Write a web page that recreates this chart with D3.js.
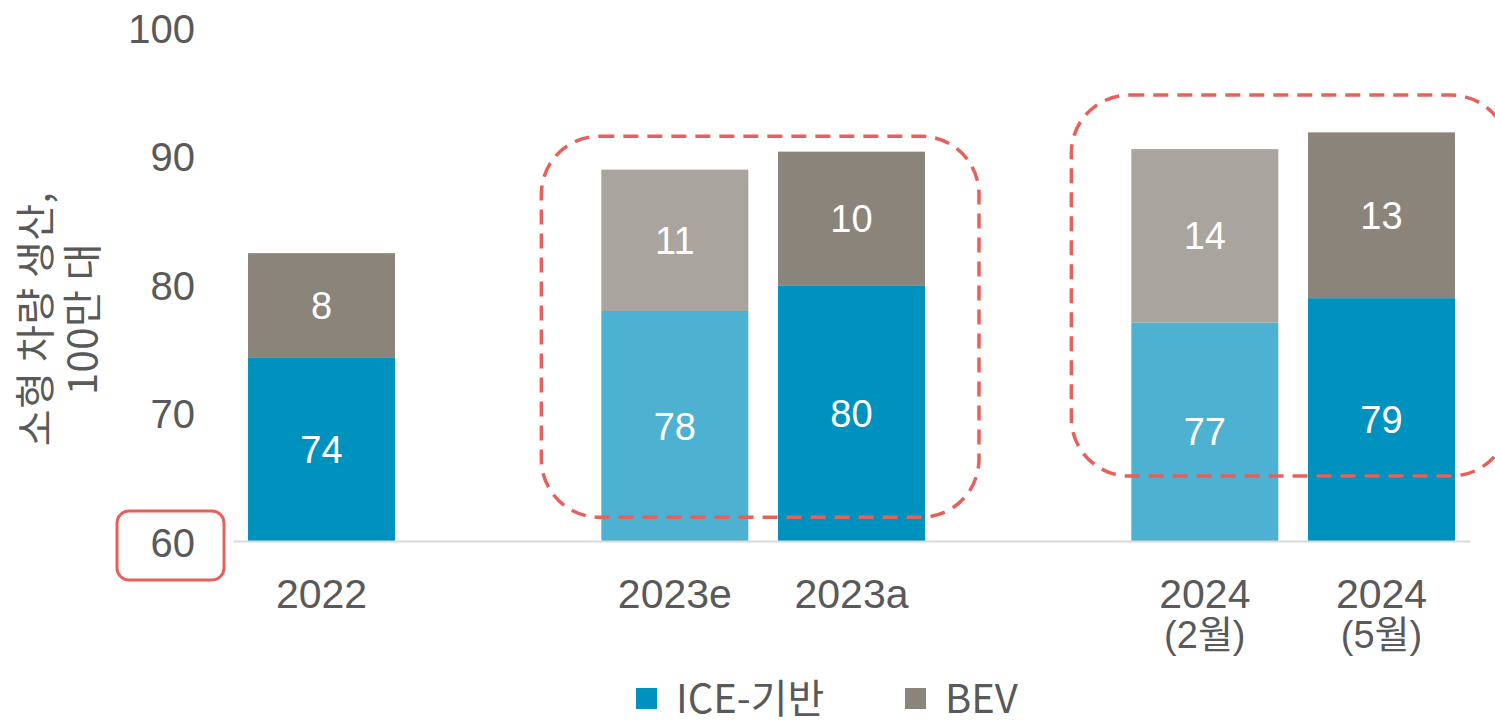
<!DOCTYPE html>
<html><head><meta charset="utf-8">
<script src="https://cdn.jsdelivr.net/npm/d3@7"></script>
<style>html,body{margin:0;padding:0;background:#fff;overflow:hidden}</style>
</head><body><svg id="c" width="1495" height="720"></svg>
<script>
// ---- data ----
const categories = ["2022", "2023e", "2023a", "2024\n(2월)", "2024\n(5월)"];
const iceValues = [74.3, 77.9, 79.9, 77.0, 78.9];
const bevValues = [8.1, 11.0, 10.4, 13.5, 12.9];
const isForecast = [false, true, false, true, false];
const yTicks = [60, 70, 80, 90, 100];
const seriesNames = ["ICE-기반", "BEV"];
const yTitleLines = ["소형 차량 생산,", "100만 대"];
// highlighted groups (first, last category) with vertical extent in data units
const highlightGroups = [
  {from: "2023e", to: "2023a", top: 91.5, bottom: 61.85},
  {from: "2024\n(2월)", to: "2024\n(5월)", top: 94.7, bottom: 65.05}
];

// ---- styles ----
const C = {
  ice: "#0092BF", iceLight: "#4DB1D1",
  bev: "#8B847A", bevLight: "#A9A49D",
  text: "#595959", axis: "#D9D9D9", red: "#E8605A"
};
const latin = "'Liberation Sans', Arial, 'Noto Sans CJK KR', sans-serif";
const kor = "'Noto Sans CJK KR', 'Noto Sans', sans-serif";

const svg = d3.select("#c");
const slots = [categories[0], "_g1", categories[1], categories[2], "_g2", categories[3], categories[4]];
const x = d3.scaleBand().domain(slots).range([233, 1470]).paddingInner(0.168).paddingOuter(0.085);
const y = d3.scaleLinear().domain([60, 100]).range([541, 27]);
const bw = x.bandwidth();

const rows = categories.map((c, i) => ({c, ice: iceValues[i], bev: bevValues[i], f: isForecast[i]}));

// bars
const g = svg.append("g");
g.selectAll("rect.ice").data(rows).join("rect")
  .attr("x", d => x(d.c)).attr("width", bw)
  .attr("y", d => y(d.ice)).attr("height", d => y(60) - y(d.ice))
  .attr("fill", d => d.f ? C.iceLight : C.ice);
g.selectAll("rect.bev").data(rows).join("rect")
  .attr("x", d => x(d.c)).attr("width", bw)
  .attr("y", d => y(d.ice + d.bev)).attr("height", d => y(d.ice) - y(d.ice + d.bev))
  .attr("fill", d => d.f ? C.bevLight : C.bev);

// value labels
g.selectAll("text.iv").data(rows).join("text")
  .attr("x", d => x(d.c) + bw / 2).attr("y", d => (y(60) + y(d.ice)) / 2)
  .attr("dy", "0.36em").attr("text-anchor", "middle")
  .attr("font-family", latin).attr("font-size", 38).attr("fill", "#fff")
  .text(d => Math.round(d.ice));
g.selectAll("text.bv").data(rows).join("text")
  .attr("x", d => x(d.c) + bw / 2).attr("y", d => (y(d.ice) + y(d.ice + d.bev)) / 2)
  .attr("dy", "0.36em").attr("text-anchor", "middle")
  .attr("font-family", latin).attr("font-size", 38).attr("fill", "#fff")
  .text(d => Math.round(d.bev));

// x axis
const xa = svg.append("g").attr("transform", `translate(0,${y(60)})`)
  .call(d3.axisBottom(x).tickValues(categories).tickSize(0).tickSizeOuter(0).tickFormat(""));
xa.select(".domain").attr("stroke", C.axis).attr("stroke-width", 2);
xa.selectAll(".tick text").each(function(d) {
  const t = d3.select(this).attr("fill", C.text).attr("font-family", latin)
    .attr("font-size", 41).attr("y", 0).attr("dy", null);
  d.split("\n").forEach((line, i) => {
    t.append("tspan").attr("x", 0).attr("y", 67 + i * 40)
      .attr("font-size", i === 0 ? 41 : 38).text(line);
  });
});

// y axis
const ya = svg.append("g").attr("transform", "translate(195,0)")
  .call(d3.axisLeft(y).tickValues(yTicks).tickSize(0).tickPadding(0));
ya.select(".domain").remove();
ya.selectAll(".tick text").attr("fill", C.text).attr("font-family", latin)
  .attr("font-size", 40).attr("dy", "0.38em");

// y title
yTitleLines.forEach((line, i) => {
  svg.append("text")
    .attr("transform", `translate(${33 + i * 47},319) rotate(-90)`)
    .attr("text-anchor", "middle").attr("dominant-baseline", "central")
    .attr("font-family", kor).attr("font-size", 40).attr("fill", C.text)
    .attr("letter-spacing", 0.5)
    .text(line);
});

// highlight boxes
highlightGroups.forEach(h => {
  const x0 = x(h.from) - 60, x1 = x(h.to) + bw + 54;
  svg.append("rect")
    .attr("x", x0).attr("y", y(h.top)).attr("width", x1 - x0).attr("height", y(h.bottom) - y(h.top))
    .attr("rx", 58).attr("ry", 58)
    .attr("fill", "none").attr("stroke", C.red).attr("stroke-width", 3.5)
    .attr("stroke-dasharray", "15,9");
});

// box around the 60 tick
svg.append("rect")
  .attr("x", 117).attr("y", y(60) - 30).attr("width", 107).attr("height", 69)
  .attr("rx", 12).attr("fill", "none").attr("stroke", C.red).attr("stroke-width", 3);

// legend
const legendX = [636, 905];
const lg = svg.append("g");
seriesNames.forEach((n, i) => {
  lg.append("rect").attr("x", legendX[i]).attr("y", 688).attr("width", 21).attr("height", 21)
    .attr("fill", i === 0 ? C.ice : C.bev);
  lg.append("text").attr("x", legendX[i] + 40).attr("y", 713)
    .attr("font-family", kor).attr("font-size", 40).attr("fill", C.text).text(n);
});
</script></body></html>
